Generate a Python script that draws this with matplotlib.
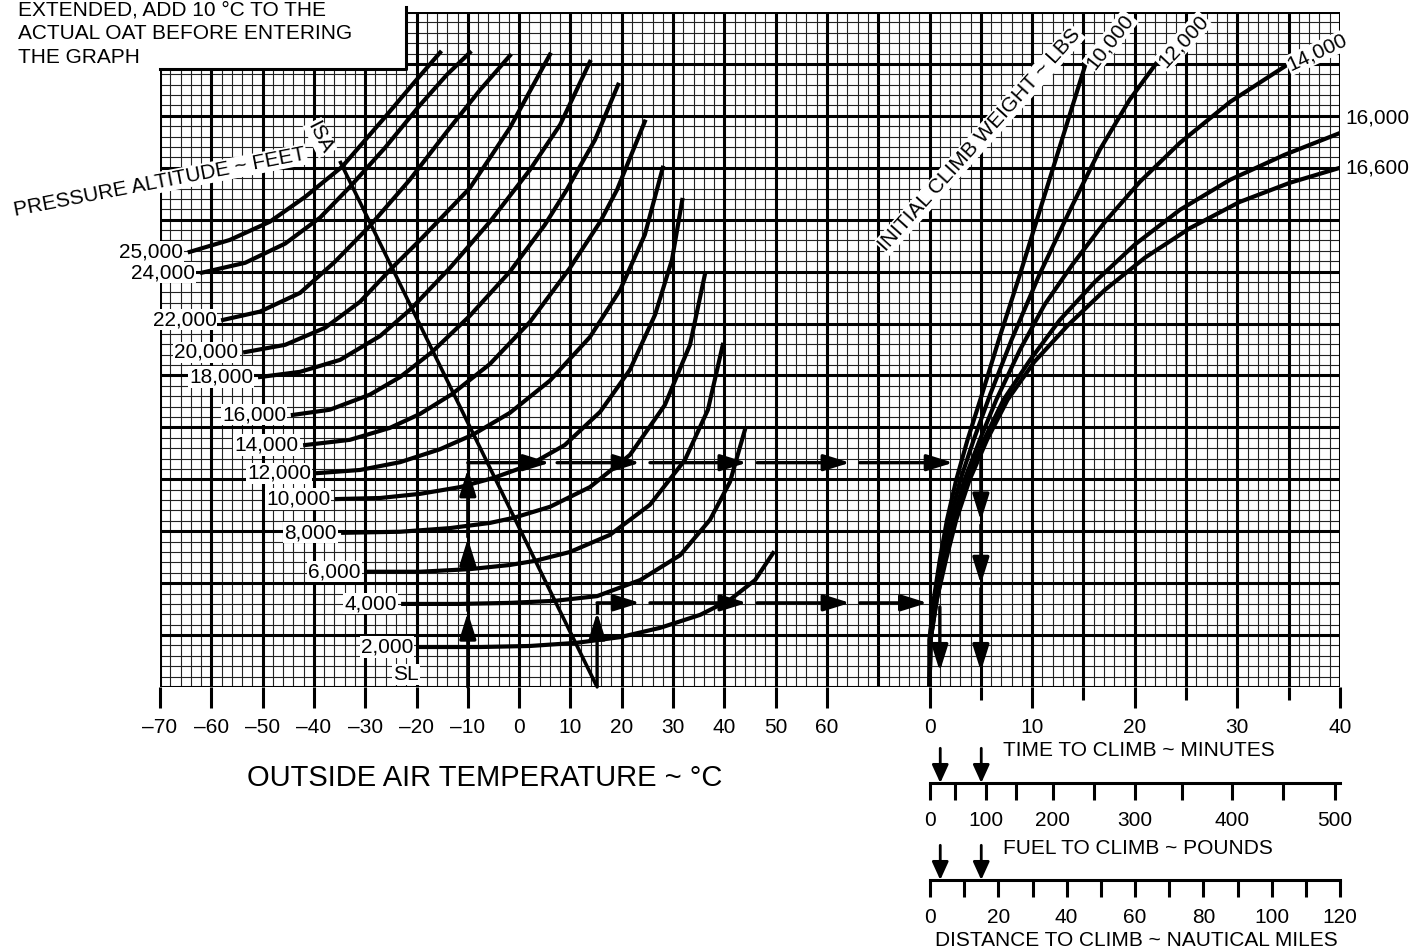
import matplotlib
matplotlib.use("Agg")
import matplotlib.pyplot as plt
import numpy as np
from matplotlib.patches import Rectangle

plt.rcParams['font.family'] = ['Liberation Sans', 'DejaVu Sans']

# --- axis values -------------------------------------------------------
oat_ticks = [-70, -60, -50, -40, -30, -20, -10, 0, 10, 20, 30, 40, 50, 60]
time_ticks = [0, 10, 20, 30, 40]
time_minor = [5, 15, 25, 35]
fuel_values = [0, 50, 100, 150, 200, 250, 300, 350, 400, 450, 500]
fuel_at_minutes = [0, 2.4, 5.5, 8.4, 12.0, 16.0, 20.0, 24.6, 29.5, 34.4, 39.5]
dist_values = [0, 10, 20, 30, 40, 50, 60, 70, 80, 90, 100, 110, 120]

# --- pressure altitude curves: OAT (C) vs chart reference (grid units) ---
alt_25000 = ([-64.2, -56.4, -48.6, -41.7, -34.5, -26.1, -20.3, -15.4],
             [83.8, 86.1, 89.6, 94.4, 100.2, 109.8, 116.6, 122.2])
alt_24000 = ([-61.8, -53.4, -45.6, -38.8, -33.0, -26.1, -19.3, -14.1, -9.6],
             [79.8, 81.7, 85.4, 90.4, 96.3, 103.9, 112.1, 117.9, 122.2])
alt_22000 = ([-57.7, -50.5, -42.7, -35.9, -29.1, -21.3, -13.5, -7.6, -1.8],
             [70.7, 72.3, 75.9, 81.9, 88.8, 97.7, 107.7, 115.0, 121.6])
alt_20000 = ([-53.4, -45.6, -37.8, -31.0, -25.0, -19.3, -9.6, -1.8, 6.0],
             [64.5, 65.9, 69.2, 74.2, 80.5, 86.1, 96.1, 107.7, 121.8])
alt_18000 = ([-50.5, -42.7, -34.9, -27.1, -21.1, -13.5, -5.7, 2.1, 8.0, 13.8],
             [59.7, 60.7, 63.0, 67.6, 72.8, 80.7, 89.6, 99.6, 108.3, 120.4])
alt_16000 = ([-44.1, -36.9, -29.1, -23.2, -17.0, -9.6, -1.8, 5.0, 9.3, 14.8, 19.3],
             [52.4, 53.4, 56.3, 59.7, 64.5, 71.5, 80.0, 89.0, 95.8, 105.4, 116.0])
alt_14000 = ([-41.7, -33.0, -25.2, -19.3, -13.1, -5.7, 2.1, 9.9, 15.8, 19.1, 24.5],
             [46.6, 47.6, 49.9, 52.6, 56.4, 62.2, 70.3, 80.7, 89.6, 95.8, 108.9])
alt_12000 = ([-39.2, -31.0, -23.2, -15.4, -9.0, -1.8, 6.0, 13.8, 19.7, 24.5, 28.0],
             [41.2, 41.8, 43.3, 45.8, 48.6, 52.8, 59.0, 67.4, 76.5, 87.1, 100.0])
alt_10000 = ([-35.5, -27.1, -19.3, -11.5, -4.9, 2.1, 8.9, 15.8, 21.6, 26.5, 29.8, 31.8],
             [36.2, 36.4, 37.2, 38.5, 40.3, 42.8, 46.6, 53.0, 61.1, 71.7, 82.3, 93.8])
alt_8000 = ([-34.3, -23.2, -13.5, -5.7, -1.0, 6.0, 13.8, 21.6, 28.4, 33.3, 36.2],
            [29.7, 29.9, 30.6, 31.6, 32.6, 34.7, 38.5, 44.7, 54.3, 65.9, 79.4])
alt_6000 = ([-29.6, -19.3, -9.6, -1.8, 3.1, 9.9, 17.7, 25.5, 32.3, 36.8, 39.7],
            [22.2, 22.2, 22.7, 23.5, 24.3, 26.0, 29.3, 35.1, 43.7, 53.4, 65.9])
alt_4000 = ([-22.6, -11.5, -1.8, 7.0, 15.2, 23.6, 31.4, 37.2, 41.1, 44.0],
            [16.0, 16.0, 16.2, 16.6, 17.5, 20.6, 25.4, 32.2, 39.5, 49.5])
alt_2000 = ([-19.3, -7.6, 2.1, 11.1, 19.7, 27.5, 35.3, 41.1, 46.0, 49.5],
            [7.7, 7.7, 7.9, 8.5, 9.6, 11.4, 13.9, 16.8, 20.6, 25.8])
altitude_curves = [('25,000', alt_25000), ('24,000', alt_24000), ('22,000', alt_22000),
                   ('20,000', alt_20000), ('18,000', alt_18000), ('16,000', alt_16000),
                   ('14,000', alt_14000), ('12,000', alt_12000), ('10,000', alt_10000),
                   ('8,000', alt_8000), ('6,000', alt_6000), ('4,000', alt_4000),
                   ('2,000', alt_2000)]

isa_oat = [-34.8, 15.2]
isa_ref = [101.0, 0.0]

# --- initial climb weight curves: time to climb (min) vs chart reference ---
wt_10000 = ([0, 0, 0.4, 1.0, 1.7, 2.6, 3.7, 5.1, 6.8, 8.8, 10.7, 12.9, 15.1],
            [0, 9.1, 16.8, 24.5, 32.2, 39.9, 47.6, 56.3, 67.2, 79.4, 91.5, 105.4, 119.3])
wt_12000 = ([0, 0, 0.5, 1.2, 2.0, 3.0, 4.3, 5.9, 8.0, 10.7, 13.7, 16.6, 19.5, 22.2],
            [0, 9.1, 16.8, 24.5, 32.2, 39.9, 47.6, 56.3, 66.9, 79.4, 91.9, 103.5, 113.1,
             120.4])
wt_14000 = ([0, 0.1, 0.6, 1.4, 2.3, 3.4, 4.9, 6.5, 8.8, 11.2, 13.9, 17.1, 20.5, 24.4,
             29.3, 34.6],
            [0, 9.1, 16.8, 24.5, 32.2, 39.9, 47.6, 55.3, 64.9, 73.6, 81.3, 89.6, 97.3, 104.8,
             112.7, 119.5])
wt_16000 = ([0, 0.1, 0.7, 1.5, 2.5, 3.7, 5.3, 7.2, 9.8, 12.7, 16.1, 20.0, 24.4, 29.3,
             34.6, 40.0],
            [0, 9.1, 16.8, 24.5, 32.2, 39.9, 47.6, 55.3, 63.0, 70.7, 78.0, 85.2, 91.9, 97.7,
             102.5, 106.7])
wt_16600 = ([0, 0.1, 0.7, 1.6, 2.6, 3.9, 5.6, 7.6, 10.2, 13.5, 17.1, 21.0, 25.4, 30.2,
             35.1, 40.0],
            [0, 9.1, 16.8, 24.5, 32.2, 39.9, 47.6, 55.3, 62.6, 69.7, 76.5, 82.7, 88.4, 93.4,
             97.1, 100.0])
weight_curves = [wt_10000, wt_12000, wt_14000, wt_16000, wt_16600]

# --- worked examples ---------------------------------------------------
ex_oat = [-10, 15.2]
ex_ref = [43.2, 16.2]
ex_time = [5.0, 1.0]
ex_up_heads = [[14.4, 28.6, 42.0], [14.4]]
ex_right_dashes = [[(-10, 6.0), (7.4, 23.6), (25.5, 44.4), (46.4, 64.5), (66.4, 84.6)],
                   [(15.2, 23.6), (25.5, 44.4), (46.4, 64.5), (66.4, 79.6)]]
ex_down_dashes = [[(43.2, 32.0), (31.2, 19.8), (19.0, 3.0)], [(15.4, 3.0)]]


def tx(t):
    # time-to-climb minutes onto the shared horizontal grid
    return 80 + 2 * np.asarray(t, dtype=float)


fig = plt.figure(figsize=(14.14, 9.5), dpi=100)
ax = fig.add_axes([160 / 1414, 263 / 950, 1180 / 1414, 675 / 950])
ax.set_xlim(-70, 160)
ax.set_ylim(0, 130)
for s in ax.spines.values():
    s.set_visible(False)

# graph paper
ax.vlines(np.arange(-70, 161, 2), 0, 130, color='#222222', lw=0.8, zorder=1)
ax.hlines(np.arange(0, 131, 2), -70, 160, color='#222222', lw=0.8, zorder=1)
ax.vlines(np.arange(-70, 161, 10), 0, 130, color='black', lw=2.2, zorder=1.2,
          capstyle='projecting')
ax.hlines(np.arange(0, 131, 10), -70, 160, color='black', lw=2.2, zorder=1.2,
          capstyle='projecting')

# note box cut out of the top left corner
ax.add_patch(Rectangle((-80, 119), 58, 20, fc='white', ec='none', zorder=1.5, clip_on=False))
ax.plot([-70, -22, -22], [119, 119, 131], color='black', lw=2.2, zorder=1.6,
        solid_capstyle='projecting', clip_on=False)

wbox = dict(boxstyle='square,pad=0.05', fc='white', ec='none')

# pressure altitude lines
for label, (oat, ref) in altitude_curves:
    ax.plot(oat, ref, color='black', lw=3, zorder=3, solid_joinstyle='round')
    ax.text(oat[0] - 1.3, ref[0], label, ha='right', va='center', fontsize=15, zorder=5,
            bbox=wbox)
ax.text(-19.6, 2.4, 'SL', ha='right', va='center', fontsize=15, zorder=5, bbox=wbox)
ax.plot(isa_oat, isa_ref, color='black', lw=2.6, zorder=3)
ax.text(-38.8, 105.8, 'ISA', rotation=-63, ha='center', va='center', fontsize=15, zorder=5,
        bbox=wbox)
ax.text(-70, 97.2, 'PRESSURE ALTITUDE ~ FEET', rotation=11, ha='center', va='center',
        fontsize=15, zorder=5, bbox=wbox)

# climb weight lines
for t, ref in weight_curves:
    ax.plot(tx(t), ref, color='black', lw=3, zorder=3, solid_joinstyle='round')
ax.text(tx(4.9), 105.4, 'INITIAL CLIMB WEIGHT ~ LBS', rotation=48, ha='center', va='center',
        fontsize=15, zorder=5, bbox=wbox)
ax.text(tx(17.6), 124.3, '10,000', rotation=52, ha='center', va='center', fontsize=15,
        zorder=5, bbox=wbox, clip_on=False)
ax.text(tx(24.7), 124.3, '12,000', rotation=47, ha='center', va='center', fontsize=15,
        zorder=5, bbox=wbox, clip_on=False)
ax.text(tx(37.8), 122.2, '14,000', rotation=25, ha='center', va='center', fontsize=15,
        zorder=5, bbox=wbox, clip_on=False)
ax.text(tx(40.5), 109.6, '16,000', ha='left', va='center', fontsize=15, clip_on=False)
ax.text(tx(40.5), 100.0, '16,600', ha='left', va='center', fontsize=15, clip_on=False)

# worked examples
astyle = dict(arrowstyle='-|>,head_length=0.8,head_width=0.25', lw=2.4, color='black',
              shrinkA=0, shrinkB=0, mutation_scale=20)
sstyle = dict(arrowstyle='-|>,head_length=0.55,head_width=0.25', lw=2.0, color='black',
              shrinkA=0, shrinkB=0, mutation_scale=20)


def arrow(a, x0, y0, x1, y1):
    a.annotate('', xy=(x1, y1), xytext=(x0, y0), arrowprops=astyle, zorder=4,
               annotation_clip=False)


for i in range(2):
    start = 0.0
    for h in ex_up_heads[i]:
        arrow(ax, ex_oat[i], start, ex_oat[i], h)
        start = h + 0.3
    ax.plot([ex_oat[i], ex_oat[i]], [ex_up_heads[i][-1], ex_ref[i]], color='black', lw=2.4,
            zorder=4)
    for x0, x1 in ex_right_dashes[i]:
        arrow(ax, x0, ex_ref[i], x1, ex_ref[i])
    for y0, y1 in ex_down_dashes[i]:
        arrow(ax, tx(ex_time[i]), y0, tx(ex_time[i]), y1)

# bottom axis: OAT and time to climb
ax.set_xticks(list(oat_ticks) + list(tx(time_ticks)))
ax.set_xticklabels([str(v).replace('-', '\u2013') for v in oat_ticks] +
                   [str(t) for t in time_ticks])
ax.set_xticks(tx(time_minor), minor=True)
ax.tick_params(axis='x', which='major', length=15, width=2.2, direction='out', pad=7,
               labelsize=15)
ax.tick_params(axis='x', which='minor', length=9, width=2.2, direction='out')
ax.set_yticks([])

fig.text(485 / 1414, 1 - 778 / 950, 'OUTSIDE AIR TEMPERATURE ~ \u00b0C', ha='center',
         va='center', fontsize=21)
fig.text(1003 / 1414, 1 - 750 / 950, 'TIME TO CLIMB ~ MINUTES', ha='left', va='center',
         fontsize=15)
fig.text(1003 / 1414, 1 - 848 / 950, 'FUEL TO CLIMB ~ POUNDS', ha='left', va='center',
         fontsize=15)
fig.text(1136 / 1414, 1 - 940 / 950, 'DISTANCE TO CLIMB ~ NAUTICAL MILES', ha='center',
         va='center', fontsize=15)

# fuel and distance scales
axf = fig.add_axes([930 / 1414, 167 / 950, 410 / 1414, 0.0001])
axf.set_xlim(0, 40)
axf.set_ylim(0, 1)
axd = fig.add_axes([930 / 1414, 70 / 950, 410 / 1414, 0.0001])
axd.set_xlim(0, 120)
axd.set_ylim(0, 1)
for a in (axf, axd):
    for s in ['left', 'right', 'top']:
        a.spines[s].set_visible(False)
    a.spines['bottom'].set_linewidth(2.2)
    a.patch.set_visible(False)
    a.set_yticks([])
    a.tick_params(axis='x', length=12, width=2.2, direction='out', pad=8, labelsize=15)
axf.set_xticks(fuel_at_minutes)
axf.set_xticklabels([str(v) if v % 100 == 0 else '' for v in fuel_values])
axd.set_xticks(dist_values)
axd.set_xticklabels([str(v) if v % 20 == 0 else '' for v in dist_values])
for t in ex_time:
    for a, scale in ((axf, 1.0), (axd, 3.0)):
        a.annotate('', xy=(t * scale, 0), xytext=(0, 25), textcoords='offset points',
                   arrowprops=sstyle, annotation_clip=False)

# note at top left
note = ['EXTENDED, ADD 10 \u00b0C TO THE', 'ACTUAL OAT BEFORE ENTERING', 'THE GRAPH']
for k, line in enumerate(note):
    fig.text(18 / 1414, 1 - (15 + 24 * k) / 950, line, ha='left', va='baseline', fontsize=15)

fig.savefig('out.png', dpi=100)
